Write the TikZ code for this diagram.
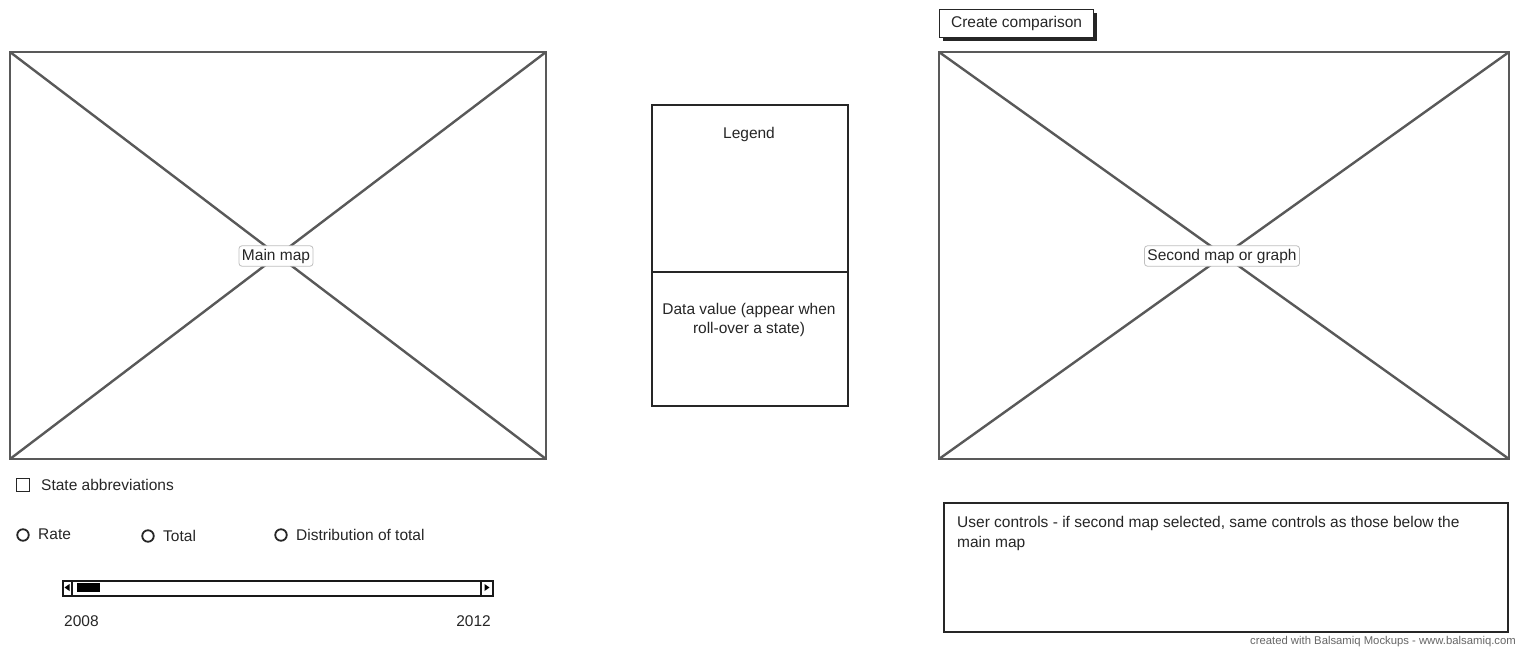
\documentclass[tikz,border=0pt]{standalone}
\usepackage{fontspec}
\setmainfont{Liberation Sans}
\begin{document}
\begin{tikzpicture}[x=1pt,y=-1pt,
  mapline/.style={draw=black!65,line width=2.4pt},
  boxline/.style={draw=black!85,line width=1.8pt},
  txt/.style={inner sep=0pt,font=\fontsize{15.5}{20.5}\selectfont,text=black!85},
  maplabel/.style={draw=black!25,line width=0.8pt,rounded corners=3pt,fill=white,inner sep=3pt,font=\fontsize{15.5}{19}\selectfont,text=black!85},
  radio/.style={circle,draw=black!85,line width=1.8pt,minimum size=11.5pt,inner sep=0pt},
]
\useasboundingbox (0,0) rectangle (1522,648);
\fill[white] (0,0) rectangle (1522,648);

% main map
\coordinate (m1) at (10,52); \coordinate (m2) at (546,52);
\coordinate (m3) at (546,459); \coordinate (m4) at (10,459);
\draw[mapline] (m1) -- (m2) -- (m3) -- (m4) -- cycle;
\draw[mapline] (m1) -- (m3) (m2) -- (m4);
\node[maplabel] (mainlbl) at (276,256) {Main map};

% legend
\node[boxline,draw,minimum width=196pt,minimum height=167pt,anchor=north west,inner sep=0pt] (legend) at (651,104) {};
\node[txt] (legendtxt) at (749,134) {Legend};
\node[boxline,draw,minimum width=196pt,minimum height=134pt,anchor=north west,inner sep=0pt] (data) at (651,271) {};
\node[txt,align=center,font=\fontsize{15.5}{19.5}\selectfont] (datatxt) at (749,320) {Data value (appear when\\roll-over a state)};

% create comparison button
\fill[black!85] (943,13) rectangle (1097,41);
\node[draw=black!85,line width=1.2pt,fill=white,minimum width=154pt,minimum height=28pt,anchor=north west,inner sep=0pt] (btn) at (939,9) {};
\node[txt] (btntxt) at (btn.center) {Create comparison};

% second map
\coordinate (s1) at (939,52); \coordinate (s2) at (1509,52);
\coordinate (s3) at (1509,459); \coordinate (s4) at (939,459);
\draw[mapline] (s1) -- (s2) -- (s3) -- (s4) -- cycle;
\draw[mapline] (s1) -- (s3) (s2) -- (s4);
\node[maplabel] (secondlbl) at (1222,256) {Second map or graph};

% user controls
\node[boxline,draw,minimum width=564pt,minimum height=129pt,anchor=north west,inner sep=0pt] (uc) at (943,502) {};
\node[txt,anchor=north west,align=left] (uctxt) at (957,516) {User controls - if second map selected, same controls as those below the\\main map};

% checkbox
\node[draw=black!85,line width=1.5pt,minimum size=13pt,inner sep=0pt] (cb) at (23,485) {};
\node[txt,anchor=west] (cbtxt) at (41,485) {State abbreviations};

% radios
\node[radio] (r1) at (23,535) {};
\node[txt,anchor=west] (r1t) at (38,534) {Rate};
\node[radio] (r2) at (148,536) {};
\node[txt,anchor=west] (r2t) at (163,536) {Total};
\node[radio] (r3) at (281,535) {};
\node[txt,anchor=west] (r3t) at (296,535) {Distribution of total};

% scrollbar
\node[draw=black!90,line width=1.8pt,minimum width=430pt,minimum height=15pt,anchor=north west,inner sep=0pt] (sb) at (62,580) {};
\draw[black!90,line width=1.2pt] (72,580) -- (72,595) (481,580) -- (481,595);
\fill[black] (64.5,587.5) -- (69.5,584) -- (69.5,591) -- cycle;
\fill[black] (489.5,587.5) -- (484.5,584) -- (484.5,591) -- cycle;
\fill[black] (77,583) rectangle (100,592);
\node[txt,anchor=west] (y1) at (64,621) {2008};
\node[txt,anchor=east] (y2) at (491,621) {2012};

% footer
\node[inner sep=0pt,anchor=east,font=\fontsize{11.3}{13}\selectfont,text=black!60] (foot) at (1516,642) {created with Balsamiq Mockups - www.balsamiq.com};
\end{tikzpicture}
\end{document}
